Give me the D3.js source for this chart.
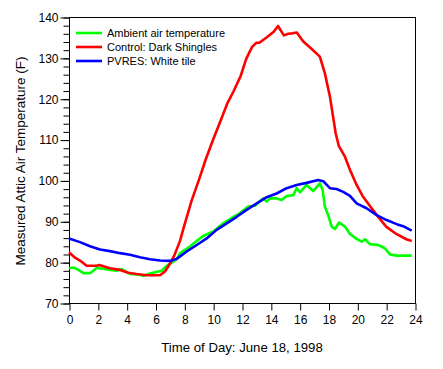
<!DOCTYPE html>
<html>
<head>
<meta charset="utf-8">
<script src="https://cdn.jsdelivr.net/npm/d3@7"></script>
<style>
  html, body { margin: 0; padding: 0; background: #fff; }
  svg { display: block; font-family: Arial, "Liberation Sans", sans-serif; }
</style>
</head>
<body>
<svg id="chart" width="443" height="369"></svg>
<script>
// ---- Data ----
const seriesNames = ["Ambient air temperature", "Control: Dark Shingles", "PVRES: White tile"];
const seriesColors = ["#00ff00", "#ff0000", "#0000ff"];

const ambientHours = [0, 0.3, 0.65, 1.0, 1.46, 1.69, 1.92, 2.38, 2.84, 3.31, 3.66, 3.88, 4.23, 4.92, 5.15, 5.5, 5.96, 6.43, 6.77, 7.12, 7.47, 7.7, 8.39, 8.86, 9.31, 10.0, 10.7, 11.4, 11.86, 12.43, 12.9, 13.47, 13.71, 13.94, 14.4, 14.75, 15.1, 15.56, 15.79, 16.02, 16.48, 16.94, 17.4, 17.59, 17.75, 17.98, 18.22, 18.45, 18.74, 19.14, 19.49, 19.95, 20.3, 20.53, 20.87, 21.45, 21.91, 22.26, 22.73, 23.77];
const ambientTemps = [78.5, 78.7, 78.1, 77.3, 77.3, 77.9, 78.6, 78.4, 78.1, 77.9, 78.3, 77.8, 77.1, 76.9, 76.6, 77.1, 77.5, 77.9, 79.1, 79.9, 80.7, 82.2, 83.8, 85.2, 86.4, 87.5, 89.5, 91.1, 92.0, 93.6, 93.8, 95.6, 94.8, 95.6, 95.6, 95.2, 96.2, 96.4, 98.1, 97.1, 98.9, 97.4, 99.3, 97.7, 93.6, 91.5, 88.7, 88.1, 89.7, 88.7, 86.9, 85.7, 85.0, 85.6, 84.4, 84.2, 83.4, 81.9, 81.6, 81.6];

const controlHours = [0, 0.42, 0.76, 1.23, 1.92, 2.1, 2.84, 3.54, 4.11, 4.69, 5.39, 6.31, 6.66, 7.0, 7.3, 7.7, 8.0, 8.5, 9.0, 9.5, 10.0, 10.5, 11.0, 11.4, 11.9, 12.3, 12.7, 13.0, 13.2, 13.7, 14.2, 14.5, 14.9, 15.2, 15.5, 15.8, 16.25, 16.8, 17.4, 17.75, 18.1, 18.5, 18.72, 19.14, 19.5, 19.95, 20.4, 20.9, 21.35, 22.0, 22.7, 23.4, 23.77];
const controlTemps = [82.4, 81.1, 80.4, 79.1, 79.1, 79.3, 78.5, 78.1, 77.4, 77.1, 76.8, 76.8, 77.7, 79.6, 81.6, 85.2, 89.0, 95.0, 100.0, 105.3, 110.0, 114.5, 119.0, 121.7, 125.5, 129.8, 132.7, 133.7, 133.7, 135.0, 136.4, 137.8, 135.5, 135.9, 136.0, 136.2, 134.0, 132.3, 130.3, 126.2, 120.5, 111.5, 108.4, 105.8, 102.5, 98.9, 96.0, 93.6, 91.5, 88.7, 86.9, 85.6, 85.2];

const pvresHours = [0, 0.76, 1.46, 2.15, 2.84, 3.54, 4.23, 4.92, 5.62, 6.31, 7.0, 7.47, 8.16, 8.86, 9.55, 10.24, 10.94, 11.63, 12.32, 13.02, 13.71, 14.4, 15.1, 15.79, 16.48, 17.29, 17.64, 18.1, 18.56, 19.02, 19.49, 19.95, 20.64, 21.34, 22.03, 22.73, 23.18, 23.77];
const pvresTemps = [85.8, 84.9, 83.9, 83.1, 82.7, 82.2, 81.8, 81.2, 80.7, 80.4, 80.3, 80.8, 82.6, 84.2, 85.8, 87.9, 89.5, 91.1, 92.8, 94.4, 95.9, 96.8, 98.1, 98.9, 99.4, 100.1, 99.8, 98.1, 97.9, 97.2, 96.2, 94.4, 93.2, 91.5, 90.3, 89.3, 88.8, 87.7];

const xTickValues = [0, 2, 4, 6, 8, 10, 12, 14, 16, 18, 20, 22, 24];
const yTickValues = [70, 80, 90, 100, 110, 120, 130, 140];
const yMinorTickValues = d3.range(70, 141, 2);

const xTitle = "Time of Day: June 18, 1998";
const yTitle = "Measured Attic Air Temperature (F)";

// ---- Layout ----
const svg = d3.select("#chart");
const plot = { left: 69, right: 415, top: 17, bottom: 303 };

const x = d3.scaleLinear().domain([0, 24]).range([plot.left, plot.right]);
const y = d3.scaleLinear().domain([70, 140]).range([plot.bottom, plot.top]);

// Frame
svg.append("rect")
  .attr("x", plot.left + 0.5).attr("y", plot.top + 0.5)
  .attr("width", plot.right - plot.left).attr("height", plot.bottom - plot.top)
  .attr("fill", "none").attr("stroke", "#000").attr("stroke-width", 1);

// Y axis minor ticks
svg.append("g")
  .attr("transform", `translate(${plot.left + 0.5},0.5)`)
  .call(d3.axisLeft(y).tickValues(yMinorTickValues).tickSize(6).tickFormat(""))
  .call(g => g.select(".domain").remove());

// Y axis major
svg.append("g")
  .attr("transform", `translate(${plot.left + 0.5},0.5)`)
  .call(d3.axisLeft(y).tickValues(yTickValues).tickSize(9).tickPadding(2).tickFormat(d3.format("d")))
  .call(g => g.select(".domain").remove())
  .call(g => g.selectAll("text").attr("font-size", 12).attr("font-family", "Arial, 'Liberation Sans', sans-serif").attr("fill", "#000"));

// X axis
svg.append("g")
  .attr("transform", `translate(0.5,${plot.bottom + 0.5})`)
  .call(d3.axisBottom(x).tickValues(xTickValues).tickSize(7).tickPadding(5).tickFormat(d3.format("d")))
  .call(g => g.select(".domain").remove())
  .call(g => g.selectAll("text").attr("font-size", 12).attr("font-family", "Arial, 'Liberation Sans', sans-serif").attr("fill", "#000"));

// Titles
svg.append("text")
  .attr("x", 242).attr("y", 352)
  .attr("text-anchor", "middle").attr("font-size", 13.2).attr("fill", "#000")
  .text(xTitle);

svg.append("text")
  .attr("transform", `translate(25,161) rotate(-90)`)
  .attr("text-anchor", "middle").attr("font-size", 13.5).attr("fill", "#000")
  .text(yTitle);

// Lines
const seriesData = [
  ambientHours.map((h, i) => [h, ambientTemps[i]]),
  controlHours.map((h, i) => [h, controlTemps[i]]),
  pvresHours.map((h, i) => [h, pvresTemps[i]])
];
const line = d3.line().x(d => x(d[0])).y(d => y(d[1]));

// draw order: green, red, blue (blue on top)
[0, 1, 2].forEach(i => {
  svg.append("path")
    .datum(seriesData[i])
    .attr("fill", "none")
    .attr("stroke", seriesColors[i])
    .attr("stroke-width", 2.6)
    .attr("stroke-linejoin", "round")
    .attr("d", line);
});

// Legend
const legend = svg.append("g");
seriesNames.forEach((name, i) => {
  const ly = 33 + i * 14;
  legend.append("line")
    .attr("x1", 76).attr("x2", 102).attr("y1", ly).attr("y2", ly)
    .attr("stroke", seriesColors[i]).attr("stroke-width", 2.6);
  legend.append("text")
    .attr("x", 107).attr("y", ly).attr("dy", "0.36em")
    .attr("font-size", 11).attr("fill", "#000")
    .text(name);
});
</script>
</body>
</html>
